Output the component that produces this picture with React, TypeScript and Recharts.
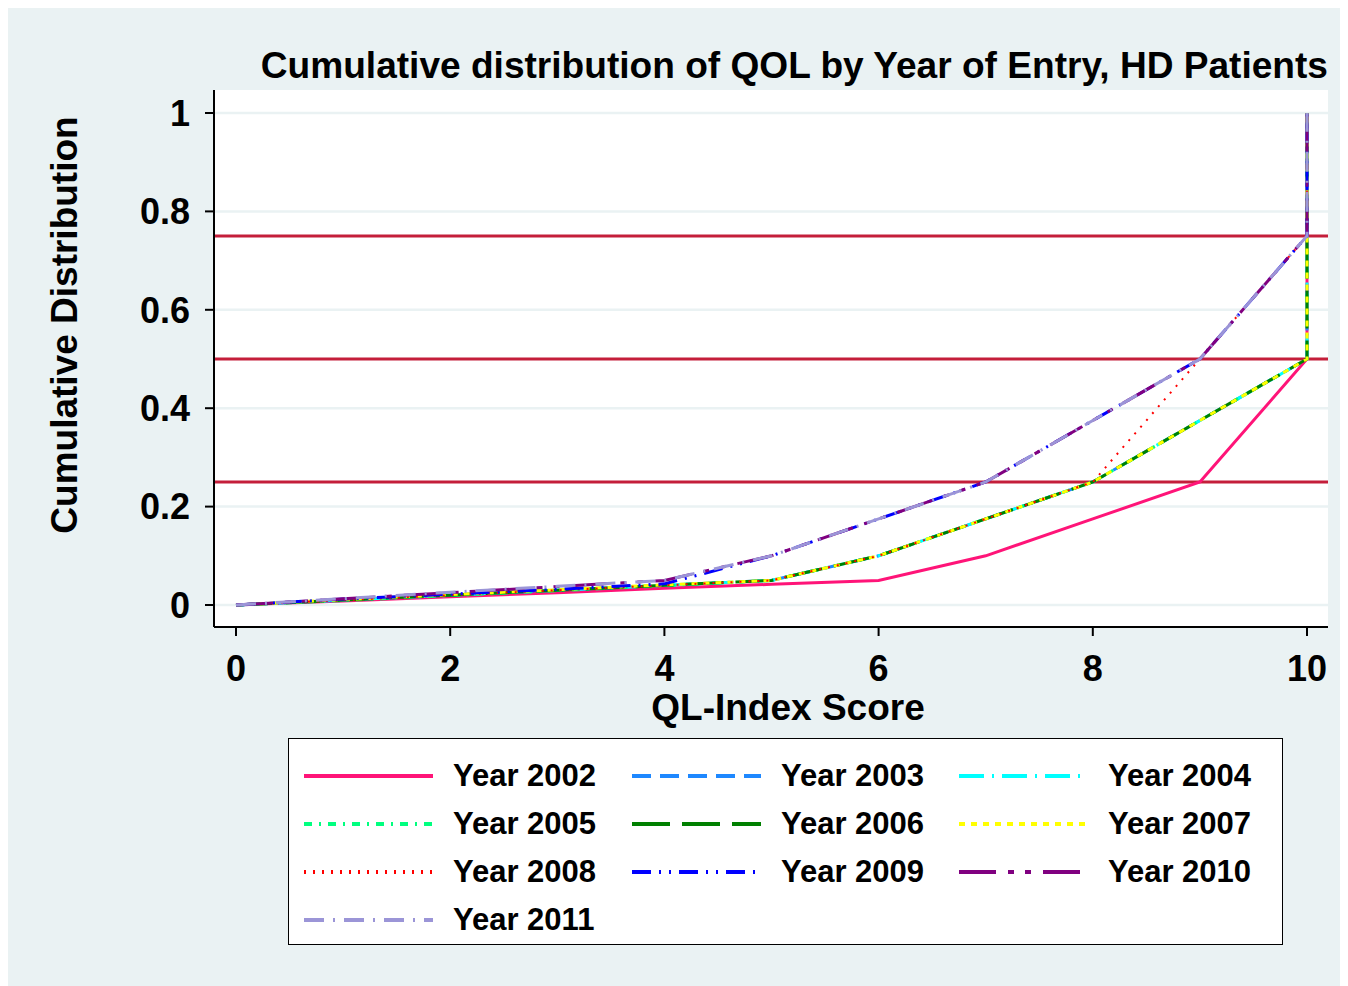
import { LineChart, Line, XAxis, YAxis, CartesianGrid, ReferenceLine, Legend, Label } from 'recharts';

const FONT = '"Liberation Sans", Arial, Helvetica, sans-serif';

// QL-Index score, 0..10
const scores = [0, 1, 2, 3, 4, 5, 6, 7, 8, 9, 10];

// cumulative share of patients at each score, by year of entry
const year2002 = [0, 0.008, 0.017, 0.025, 0.034, 0.042, 0.05, 0.1, 0.175, 0.25, 0.5];
const year2003 = [0, 0.01, 0.02, 0.03, 0.04, 0.05, 0.1, 0.175, 0.25, 0.375, 0.5];
const year2004 = [0, 0.01, 0.02, 0.03, 0.04, 0.05, 0.1, 0.175, 0.25, 0.375, 0.5];
const year2005 = [0, 0.009, 0.019, 0.029, 0.039, 0.05, 0.1, 0.175, 0.25, 0.375, 0.5];
const year2006 = [0, 0.01, 0.02, 0.03, 0.04, 0.05, 0.1, 0.175, 0.25, 0.375, 0.5];
const year2007 = [0, 0.011, 0.021, 0.031, 0.041, 0.05, 0.1, 0.175, 0.25, 0.375, 0.5];
const year2008 = [0, 0.01, 0.02, 0.03, 0.04, 0.05, 0.1, 0.175, 0.25, 0.5, 0.75];
const year2009 = [0, 0.012, 0.022, 0.032, 0.043, 0.1, 0.175, 0.25, 0.375, 0.5, 0.75];
const year2010 = [0, 0.0125, 0.025, 0.0375, 0.05, 0.1, 0.175, 0.25, 0.375, 0.5, 0.75];
const year2011 = [0, 0.013, 0.026, 0.038, 0.05, 0.1, 0.175, 0.25, 0.375, 0.5, 0.75];

const quartiles = [0.25, 0.5, 0.75];
const xTicks = [0, 2, 4, 6, 8, 10];
const yTicks = [0, 0.2, 0.4, 0.6, 0.8, 1];

// every curve closes at (10, 1)
const toPoints = (values: number[]) =>
  scores.map((x, i) => ({ x, y: values[i] })).concat([{ x: 10, y: 1 }]);

const series = [
  { name: 'Year 2002', values: year2002, color: '#ff1478', dash: undefined, width: 3 },
  { name: 'Year 2003', values: year2003, color: '#1e88ff', dash: '19 9', width: 3 },
  { name: 'Year 2004', values: year2004, color: '#00ffff', dash: '25 8 2 8', width: 3 },
  { name: 'Year 2005', values: year2005, color: '#00ff7f', dash: '8 7 2 7', width: 3 },
  { name: 'Year 2006', values: year2006, color: '#008000', dash: '38 12', width: 3 },
  { name: 'Year 2007', values: year2007, color: '#ffff00', dash: '6 6', width: 3 },
  { name: 'Year 2008', values: year2008, color: '#ff0000', dash: '2 7', width: 2 },
  { name: 'Year 2009', values: year2009, color: '#0000ff', dash: '19 8 2 8 2 8', width: 3 },
  { name: 'Year 2010', values: year2010, color: '#800080', dash: '37 12 6 11 6 12', width: 3 },
  { name: 'Year 2011', values: year2011, color: '#9b95d7', dash: '20 9 2 9', width: 3 },
];

const colLeft = [15, 343, 670];

const renderLegend = () => (
  <div
    style={{
      position: 'relative',
      width: 995,
      height: 207,
      background: '#fff',
      border: '1.5px solid #000',
      boxSizing: 'border-box',
      fontFamily: FONT,
    }}
  >
    {series.map((s, i) => (
      <div
        key={s.name}
        style={{
          position: 'absolute',
          left: colLeft[i % 3],
          top: 37 + Math.floor(i / 3) * 48 - 24,
          height: 48,
          display: 'flex',
          alignItems: 'center',
        }}
      >
        <svg width={129} height={10} style={{ display: 'block' }}>
          <line x1={0} y1={5} x2={129} y2={5} stroke={s.color} strokeWidth={4} strokeDasharray={s.dash} />
        </svg>
        <span style={{ marginLeft: 20, fontSize: 31, fontWeight: 'bold', color: '#000', whiteSpace: 'nowrap' }}>
          {s.name}
        </span>
      </div>
    ))}
  </div>
);

const tickStyle = { fontSize: 36, fontWeight: 'bold', fill: '#000', fontFamily: FONT };

export default function App() {
  return (
    <div style={{ position: 'relative', marginTop: -3, width: 1338, height: 981, background: '#eaf2f3', fontFamily: FONT }}>
      <div
        style={{
          position: 'absolute',
          right: 18,
          top: 42,
          fontSize: 37.1,
          lineHeight: '37px',
          fontWeight: 'bold',
          color: '#000',
          whiteSpace: 'nowrap',
        }}
      >
        Cumulative distribution of QOL by Year of Entry, HD Patients
      </div>
      <LineChart width={1338} height={981} margin={{ top: 85, right: 18, bottom: 0, left: 0 }}>
        <CartesianGrid vertical={false} horizontalValues={yTicks} fill="#fff" fillOpacity={1} stroke="#eaf2f3" strokeWidth={2.5} />
        <XAxis
          type="number"
          dataKey="x"
          domain={[0, 10]}
          ticks={xTicks}
          padding={{ left: 22, right: 21 }}
          height={359}
          tickSize={9}
          tickMargin={19}
          tick={tickStyle}
          axisLine={{ stroke: '#000', strokeWidth: 2 }}
          tickLine={{ stroke: '#000', strokeWidth: 2 }}
        >
          <Label
            content={({ viewBox }: any) => (
              <text
                x={viewBox.x + viewBox.width / 2 + 17}
                y={viewBox.y + 93}
                textAnchor="middle"
                fontSize={37}
                fontWeight="bold"
                fontFamily={FONT}
                fill="#000"
              >
                QL-Index Score
              </text>
            )}
          />
        </XAxis>
        <YAxis
          type="number"
          dataKey="y"
          domain={[0, 1]}
          ticks={yTicks}
          padding={{ top: 23, bottom: 22 }}
          width={206}
          tickSize={9}
          tickMargin={15}
          tick={tickStyle}
          axisLine={{ stroke: '#000', strokeWidth: 2 }}
          tickLine={{ stroke: '#000', strokeWidth: 2 }}
        >
          <Label
            content={() => (
              <text
                x={69}
                y={320}
                transform="rotate(-90 69 320)"
                textAnchor="middle"
                fontSize={37}
                fontWeight="bold"
                fontFamily={FONT}
                fill="#000"
              >
                Cumulative Distribution
              </text>
            )}
          />
        </YAxis>
        {quartiles.map((q) => (
          <ReferenceLine key={q} y={q} stroke="#c41e3a" strokeWidth={3} />
        ))}
        {series.map((s) => (
          <Line
            key={s.name}
            name={s.name}
            data={toPoints(s.values)}
            dataKey="y"
            stroke={s.color}
            strokeWidth={s.width}
            strokeDasharray={s.dash}
            dot={false}
            activeDot={false}
            isAnimationActive={false}
          />
        ))}
        <Legend
          verticalAlign="middle"
          align="center"
          content={renderLegend}
          wrapperStyle={{ left: 280, top: 733, width: 995, height: 207 }}
        />
      </LineChart>
    </div>
  );
}
